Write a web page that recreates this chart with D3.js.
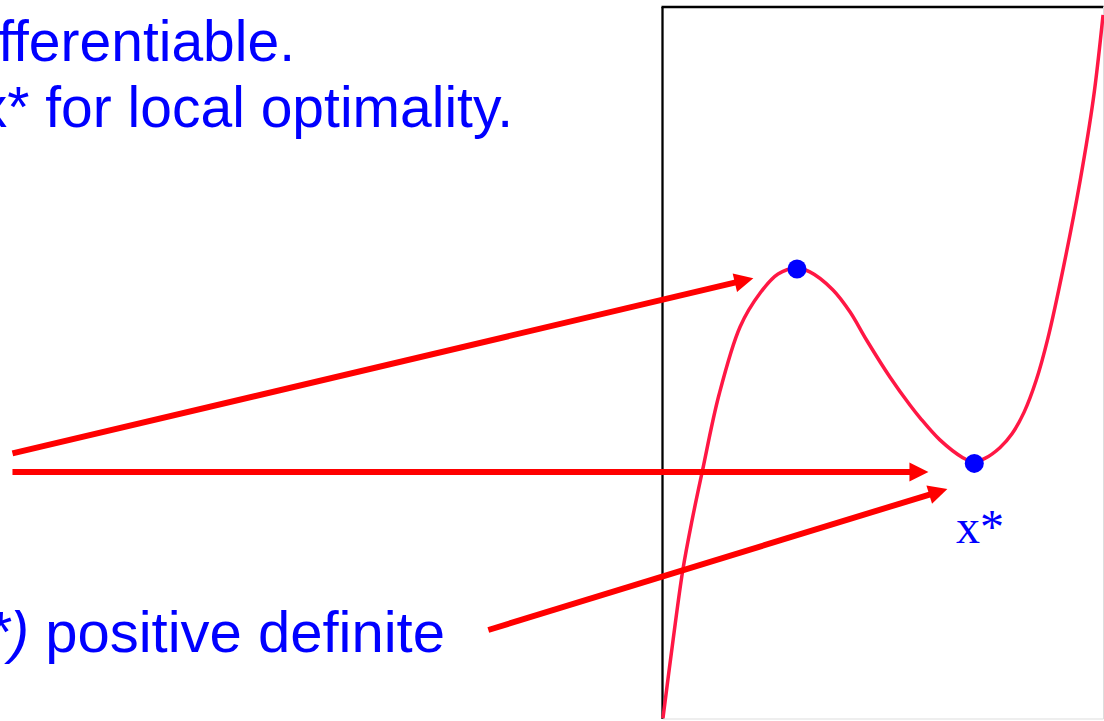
<!DOCTYPE html>
<html>
<head>
<meta charset="utf-8">
<script src="https://cdn.jsdelivr.net/npm/d3@7"></script>
<style>
  body { margin: 0; background: #fff; overflow: hidden; }
  svg { display: block; }
</style>
</head>
<body>
<div id="container"></div>
<script>
// curve of f(x) (box units: x 0..10, y 0..10)
var curveX = [0.01, 0.24, 0.46, 0.67, 0.90, 1.28, 1.76, 2.21, 2.62, 3.03,
              3.34, 3.86, 4.25, 4.63, 5.16, 5.61, 5.84, 6.29, 6.81, 7.04,
              7.31, 7.65, 7.93, 8.20, 8.47, 8.74, 9.09, 9.47, 9.77, 9.99];
var curveY = [0.01, 1.11, 2.09, 2.79, 3.47, 4.55, 5.51, 5.98, 6.25, 6.33,
              6.28, 6.03, 5.72, 5.32, 4.80, 4.41, 4.23, 3.92, 3.67, 3.61,
              3.66, 3.81, 4.01, 4.31, 4.75, 5.35, 6.34, 7.56, 8.71, 9.89];

// stationary points (local max, local min)
var pointX = [3.05, 7.07];
var pointY = [6.32, 3.59];

// arrows: start -> tip
var arrowX0 = [-14.74, -14.74, -3.95];
var arrowY0 = [3.73, 3.47, 1.25];
var arrowX1 = [2.06, 6.03, 6.46];
var arrowY1 = [6.19, 3.47, 3.23];

var width = 1104, height = 721;

var svg = d3.select("#container")
  .append("svg")
    .attr("width", width)
    .attr("height", height);

// box of the plot
var x = d3.scaleLinear().domain([0, 10]).range([662.5, 1103.5]);
var y = d3.scaleLinear().domain([0, 10]).range([719, 7]);

// texts
var txt = svg.append("g")
  .style("font-family", "'Liberation Sans', Arial, sans-serif")
  .style("fill", "#0000ff");

txt.append("text")
  .attr("x", 295).attr("y", 61)
  .attr("text-anchor", "end")
  .style("font-size", "57px")
  .text("differentiable.");

txt.append("text")
  .attr("x", 513).attr("y", 127)
  .attr("text-anchor", "end")
  .style("font-size", "57px")
  .text("x* for local optimality.");

var t3 = txt.append("text")
  .attr("x", 445).attr("y", 652)
  .attr("text-anchor", "end")
  .style("font-size", "58px");
t3.append("tspan").style("font-style", "italic").text("f(x*)");
t3.append("tspan").text(" positive definite");

// box frame
svg.append("line")
  .attr("x1", x(0)).attr("x2", x(0)).attr("y1", y(10)).attr("y2", y(0))
  .style("stroke", "#000").style("stroke-width", 2.3);
svg.append("line")
  .attr("x1", x(0) - 1).attr("x2", x(10)).attr("y1", y(10)).attr("y2", y(10))
  .style("stroke", "#000").style("stroke-width", 2.3);
svg.append("line")
  .attr("x1", x(10)).attr("x2", x(10)).attr("y1", y(10)).attr("y2", y(0))
  .style("stroke", "#ddd").style("stroke-width", 1);
svg.append("line")
  .attr("x1", x(0)).attr("x2", x(10)).attr("y1", y(0)).attr("y2", y(0))
  .style("stroke", "#ddd").style("stroke-width", 1);

// the curve
var pts = curveX.map(function(d, i){ return [d, curveY[i]] });
var line = d3.line()
  .x(function(d){ return x(d[0]) })
  .y(function(d){ return y(d[1]) })
  .curve(d3.curveCatmullRom.alpha(0.5));

svg.append("path")
  .datum(pts)
  .attr("d", line)
  .style("fill", "none")
  .style("stroke", "#ff1744")
  .style("stroke-width", 3.5);

// arrows
var headLen = 19, headHalf = 9.5;
arrowX0.forEach(function(d, i){
  var sx = x(d), sy = y(arrowY0[i]);
  var tx = x(arrowX1[i]), ty = y(arrowY1[i]);
  var dx = tx - sx, dy = ty - sy;
  var len = Math.sqrt(dx*dx + dy*dy);
  var ux = dx/len, uy = dy/len;
  var bx = tx - ux*headLen, by = ty - uy*headLen;
  svg.append("line")
    .attr("x1", sx).attr("y1", sy)
    .attr("x2", bx + ux*2).attr("y2", by + uy*2)
    .style("stroke", "#ff0000")
    .style("stroke-width", 6);
  svg.append("path")
    .attr("d", "M" + tx + "," + ty
      + "L" + (bx - uy*headHalf) + "," + (by + ux*headHalf)
      + "L" + (bx + uy*headHalf) + "," + (by - ux*headHalf) + "Z")
    .style("fill", "#ff0000");
});

// stationary points
svg.selectAll(".pt")
  .data(pointX)
  .enter().append("circle")
    .attr("class", "pt")
    .attr("cx", function(d){ return x(d) })
    .attr("cy", function(d, i){ return y(pointY[i]) })
    .attr("r", 9.5)
    .style("fill", "#0000ff");

// x* label
svg.append("text")
  .attr("x", 956).attr("y", 543)
  .style("font-family", "'Liberation Serif', 'Times New Roman', serif")
  .style("font-size", "48px")
  .style("fill", "#0000ff")
  .text("x*");
</script>
</body>
</html>
